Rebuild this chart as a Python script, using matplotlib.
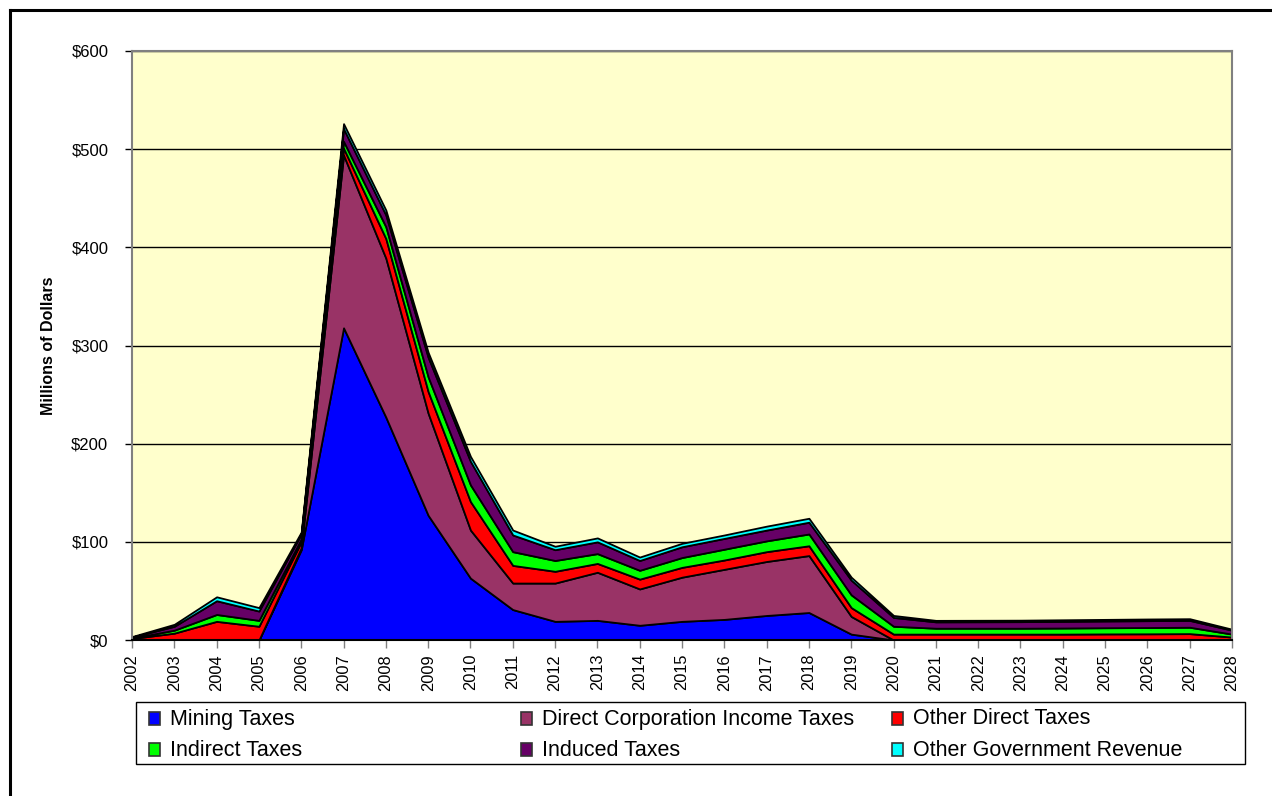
import matplotlib.pyplot as plt
from matplotlib.patches import Rectangle
from matplotlib.lines import Line2D

plt.rcParams["font.family"] = ["Liberation Sans", "DejaVu Sans"]

years = list(range(2002, 2029))

# millions of dollars
mining = [0, 0, 0, 0, 92, 318, 227, 127, 63, 31, 19, 20, 15, 19, 21, 25, 28,
          6, 0, 0, 0, 0, 0, 0, 0, 0, 0]
direct_corp = [0, 0, 0, 0, 2, 176, 162, 104, 49, 27, 39, 49, 37, 45, 51, 55, 58,
               18, 0, 0, 0, 0, 0, 0, 0, 0, 0]
other_direct = [1.5, 7, 19, 14, 6, 7, 20, 22, 29, 18, 12, 9, 10, 10, 9.5, 10, 10,
                9, 6, 6, 6, 6, 6, 6.2, 6.3, 6.5, 3]
indirect = [0.5, 3, 7, 6, 3, 7, 12, 15, 17, 14, 11, 10, 9, 10, 11, 11, 12,
            13, 8, 6, 6, 6, 6.2, 6.3, 6.4, 6.5, 3]
induced = [1, 4, 14, 9.5, 5, 13, 12, 20, 24, 17, 11, 12, 10, 11, 11, 11, 12,
           15, 9, 6.5, 6.6, 6.7, 6.8, 6.9, 7, 7, 4]
other_gov = [0.5, 2, 4, 3.5, 2, 5, 5, 5, 5, 5, 3.5, 4, 3.5, 3.5, 3.5, 4, 4,
             3, 2, 1.5, 1.5, 1.5, 1.6, 1.6, 1.7, 1.7, 1]

labels = ["Mining Taxes", "Direct Corporation Income Taxes", "Other Direct Taxes",
          "Indirect Taxes", "Induced Taxes", "Other Government Revenue"]
colors = ["#0000FF", "#993366", "#FF0000", "#00FF00", "#660066", "#00FFFF"]

W, H = 1272, 796
fig = plt.figure(figsize=(W / 100, H / 100), dpi=100)
fig.patch.set_facecolor("white")

# plot area in pixels: x 132..1232, y 51..640
ax = fig.add_axes([132 / W, (H - 640) / H, 1100 / W, 589 / H])
ax.set_facecolor("#FFFFCC")

ax.stackplot(years, mining, direct_corp, other_direct, indirect, induced, other_gov,
             colors=colors, edgecolor="black", linewidth=1.3)

ax.set_xlim(2002, 2028)
ax.set_ylim(0, 600)
ax.set_yticks(range(0, 601, 100))
ax.set_yticklabels([f"${v}" for v in range(0, 601, 100)], fontsize=12)
ax.set_xticks(years)
ax.set_xticklabels([str(y) for y in years], rotation=90, fontsize=11.8)
ax.tick_params(axis="y", length=5, width=1, pad=12, direction="out")
ax.tick_params(axis="x", length=6, width=1, pad=4, direction="out", color="#808080")

ax.grid(axis="y", color="black", linewidth=1)
ax.set_axisbelow(True)
for side in ["top", "right"]:
    ax.spines[side].set_color("#808080")
    ax.spines[side].set_linewidth(1.5)
ax.spines["left"].set_color("#808080")
ax.spines["left"].set_linewidth(1.5)
ax.spines["bottom"].set_color("black")
ax.spines["bottom"].set_linewidth(1.5)

ax.set_ylabel("Millions of Dollars", fontsize=11.5, fontweight="bold")
ax.yaxis.set_label_coords((56 - 132) / 1100, 0.5)

# legend drawn by hand to match the fixed column positions
fig.add_artist(Rectangle((136 / W, (H - 764) / H), (1245 - 136) / W, 62 / H,
                         transform=fig.transFigure, facecolor="white",
                         edgecolor="black", linewidth=1))
col_x = [149, 521, 892]
row_y = [718, 749]
for i, (lab, col) in enumerate(zip(labels, colors)):
    cx = col_x[i % 3]
    cy = row_y[i // 3]
    fig.add_artist(Rectangle((cx / W, (H - cy - 6.5) / H), 11 / W, 13 / H,
                             transform=fig.transFigure, facecolor=col,
                             edgecolor="#333333", linewidth=1.2))
    fig.text((cx + 21) / W, (H - cy - 1) / H, lab, fontsize=15.5, va="center", ha="left")

# outer frame (left and top edges visible)
fig.add_artist(Line2D([9.5 / W, 9.5 / W], [0, (H - 9.5) / H], color="black",
                      linewidth=2.2, transform=fig.transFigure))
fig.add_artist(Line2D([9.5 / W, 1], [(H - 9.5) / H, (H - 9.5) / H], color="black",
                      linewidth=2.2, transform=fig.transFigure))

fig.savefig("out.png", dpi=100)
